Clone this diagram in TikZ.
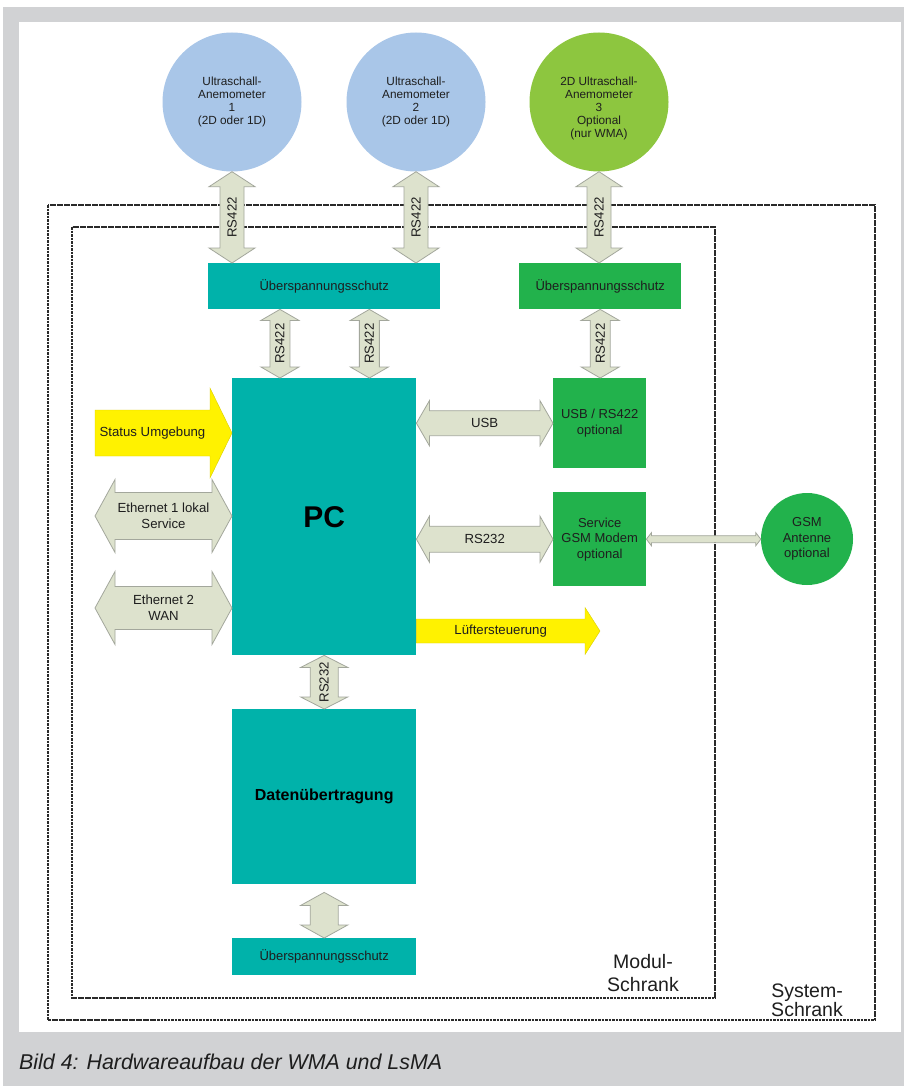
\documentclass[tikz,border=0pt]{standalone}
\usepackage{fontspec}
\setmainfont{Liberation Sans}
\usetikzlibrary{calc}
\definecolor{bggray}{HTML}{D1D2D4}
\definecolor{teal1}{HTML}{00B2AA}
\definecolor{green1}{HTML}{22B24C}
\definecolor{lime1}{HTML}{8DC63F}
\definecolor{blue1}{HTML}{A9C6E8}
\definecolor{arrfill}{HTML}{DDE2CD}
\definecolor{arrdraw}{HTML}{A3A79C}
\definecolor{yell}{HTML}{FFF200}
\definecolor{txt}{HTML}{1E1E1E}
\definecolor{dashc}{HTML}{2A2A2A}
\newcommand\fs[2]{\fontsize{#1}{#2}\selectfont}
% vertical double arrow: #1 x-source, #2 top, #3 bottom, #4 half shaft, #5 half head, #6 head length, #7 label
\newcommand\VDArrow[7]{%
  \draw[fatarrow] let \p3=#1, \p1=#2, \p2=#3 in
   (\x3,\y1) -- (\x3+#5,\y1-#6) -- (\x3+#4,\y1-#6) -- (\x3+#4,\y2+#6) -- (\x3+#5,\y2+#6) -- (\x3,\y2)
   -- (\x3-#5,\y2+#6) -- (\x3-#4,\y2+#6) -- (\x3-#4,\y1-#6) -- (\x3-#5,\y1-#6) -- cycle
   node[albl, rotate=90] at (\x3,{(\y1+\y2)/2}) {#7};}
% horizontal double arrow: #1 y-source, #2 left, #3 right
\newcommand\HDArrow[7]{%
  \draw[fatarrow] let \p3=#1, \p1=#2, \p2=#3 in
   (\x1,\y3) -- (\x1+#6,\y3+#5) -- (\x1+#6,\y3+#4) -- (\x2-#6,\y3+#4) -- (\x2-#6,\y3+#5) -- (\x2,\y3)
   -- (\x2-#6,\y3-#5) -- (\x2-#6,\y3-#4) -- (\x1+#6,\y3-#4) -- (\x1+#6,\y3-#5) -- cycle
   node[albl] at ({(\x1+\x2)/2},\y3) {#7};}
% horizontal single arrow pointing right
\newcommand\HSArrow[7]{%
  \draw[yelarrow] let \p3=#1, \p1=#2, \p2=#3 in
   (\x1,\y3+#4) -- (\x2-#6,\y3+#4) -- (\x2-#6,\y3+#5) -- (\x2,\y3)
   -- (\x2-#6,\y3-#5) -- (\x2-#6,\y3-#4) -- (\x1,\y3-#4) -- cycle
   node[albl] at ({(\x1+\x2-#6)/2},\y3) {#7};}
\tikzset{
  box/.style={draw=none, inner sep=0pt, align=center, text=txt, font=\fs{13}{15.5}},
  tealbox/.style={box, fill=teal1},
  greenbox/.style={box, fill=green1},
  sensor/.style={circle, inner sep=0pt, minimum size=139pt, align=center,
    font=\fs{11.8}{13}, text=txt, draw=none, fill=#1},
  fatarrow/.style={fill=arrfill, draw=arrdraw, line width=0.8pt, line join=miter},
  yelarrow/.style={fill=yell, draw=yell!85!black, line width=0.4pt},
  albl/.style={font=\fs{13.2}{16}, text=txt, align=center, inner sep=0pt},
  cabinet/.style={draw=dashc, line width=2.6pt, dash pattern=on 2.6pt off 0.9pt},
  lbl/.style={font=\fs{19.5}{23}, text=txt, align=center, inner sep=0pt},
}
\begin{document}
\begin{tikzpicture}[x=1pt,y=-1pt]
\useasboundingbox (0,0) rectangle (904,1086);
\fill[white] (0,0) rectangle (904,1086);
\fill[bggray] (3,7) rectangle (904,1086);
\fill[white] (19,22) rectangle (901,1032);

% cabinets
\draw[cabinet] (48,205) rectangle (875,1020);
\draw[cabinet] (72,227) rectangle (715,998);
\node[lbl] (modul) at (643,973) {Modul-\\Schrank};
\node[lbl, font=\fs{19.5}{17}] (system) at (807,1000) {System-\\Schrank};

% sensors
\node[sensor=blue1] (a1) at (232,102) {Ultraschall-\\Anemometer\\1\\(2D oder 1D)};
\node[sensor=blue1] (a2) at (416,102) {Ultraschall-\\Anemometer\\2\\(2D oder 1D)};
\node[sensor=lime1] (a3) at (599,102) {};
\node[align=center, font=\fs{11.8}{13}, text=txt, inner sep=0pt] (a3t) at (599,108) {2D Ultraschall-\\Anemometer\\3\\Optional\\(nur WMA)};

% boxes
\node[tealbox, minimum width=232pt, minimum height=46pt, anchor=north west] (u1) at (208,263) {Überspannungsschutz};
\node[greenbox, minimum width=162pt, minimum height=46pt, anchor=north west] (u2) at (519,263) {Überspannungsschutz};
\node[tealbox, minimum width=184pt, minimum height=277pt, anchor=north west, font=\bfseries\fs{30}{34}, text=black] (pc) at (232,378) {PC};
\node[greenbox, minimum width=93pt, minimum height=90pt, anchor=north west] (usb) at (553,378) {USB / RS422\\optional};
\node[greenbox, minimum width=93pt, minimum height=94pt, anchor=north west] (gsm) at (553,492) {Service\\GSM Modem\\optional};
\node[circle, fill=green1, minimum size=92pt, inner sep=0pt, align=center, font=\fs{13}{15.5}, text=txt] (ant) at (807,539) {GSM\\Antenne\\optional};
\node[tealbox, minimum width=184pt, minimum height=175pt, anchor=north west, font=\bfseries\fs{16}{19}, text=black] (dat) at (232,709) {Datenübertragung};
\node[tealbox, minimum width=184pt, minimum height=37pt, anchor=north west] (u3) at (232,938) {Überspannungsschutz};

% free ends
\coordinate (st) at (95,433);
\coordinate (e1) at (95,516);
\coordinate (e2) at (95,608);
\coordinate (lf) at (600,631);

% RS422 from sensors
\VDArrow{(a1.south)}{(a1.south)}{(u1.north)}{12pt}{23pt}{15pt}{RS422}
\VDArrow{(a2.south)}{(a2.south)}{(u1.north)}{12pt}{23pt}{15pt}{RS422}
\VDArrow{(a3.south)}{(a3.south)}{(u2.north)}{12pt}{23pt}{15pt}{RS422}
% RS422 to PC / USB
\VDArrow{($(pc.north west)!0.26!(pc.north east)$)}{(u1.south)}{(pc.north)}{10pt}{19pt}{11pt}{RS422}
\VDArrow{($(pc.north west)!0.745!(pc.north east)$)}{(u1.south)}{(pc.north)}{10pt}{19pt}{11pt}{RS422}
\VDArrow{(u2.south)}{(u2.south)}{(usb.north)}{10pt}{19pt}{11pt}{RS422}
% PC to Datenuebertragung and surge protection
\VDArrow{(pc.south)}{(pc.south)}{(dat.north)}{14pt}{23.5pt}{12pt}{RS232}
\VDArrow{(dat.south)}{($(dat.south)+(0,8)$)}{(u3.north)}{14pt}{23.5pt}{13pt}{}

% horizontal links
\HDArrow{(usb.west)}{(pc.east)}{(usb.west)}{12.5pt}{22.5pt}{13pt}{USB}
\HDArrow{(gsm.west)}{(pc.east)}{(gsm.west)}{13pt}{23pt}{13pt}{RS232}
\HDArrow{(e1)}{(e1)}{(pc.west)}{23.5pt}{36.5pt}{20pt}{Ethernet 1 lokal\\Service}
\HDArrow{(e2)}{(e2)}{(pc.west)}{21.5pt}{36.5pt}{20pt}{Ethernet 2\\WAN}
\HDArrow{(gsm.east)}{(gsm.east)}{(ant.west)}{3.5pt}{6.5pt}{5pt}{}

% yellow arrows
\HSArrow{(st)}{(st)}{(pc.west)}{23pt}{45pt}{22pt}{Status Umgebung}
\HSArrow{(lf)}{(pc.east)}{(lf)}{12pt}{23.5pt}{15pt}{Lüftersteuerung}

% caption
\node[anchor=west, font=\itshape\fs{21.4}{24}, text=txt, inner sep=0pt] (cap) at (19,1062) {Bild 4: Hardwareaufbau der WMA und LsMA};
\end{tikzpicture}
\end{document}
